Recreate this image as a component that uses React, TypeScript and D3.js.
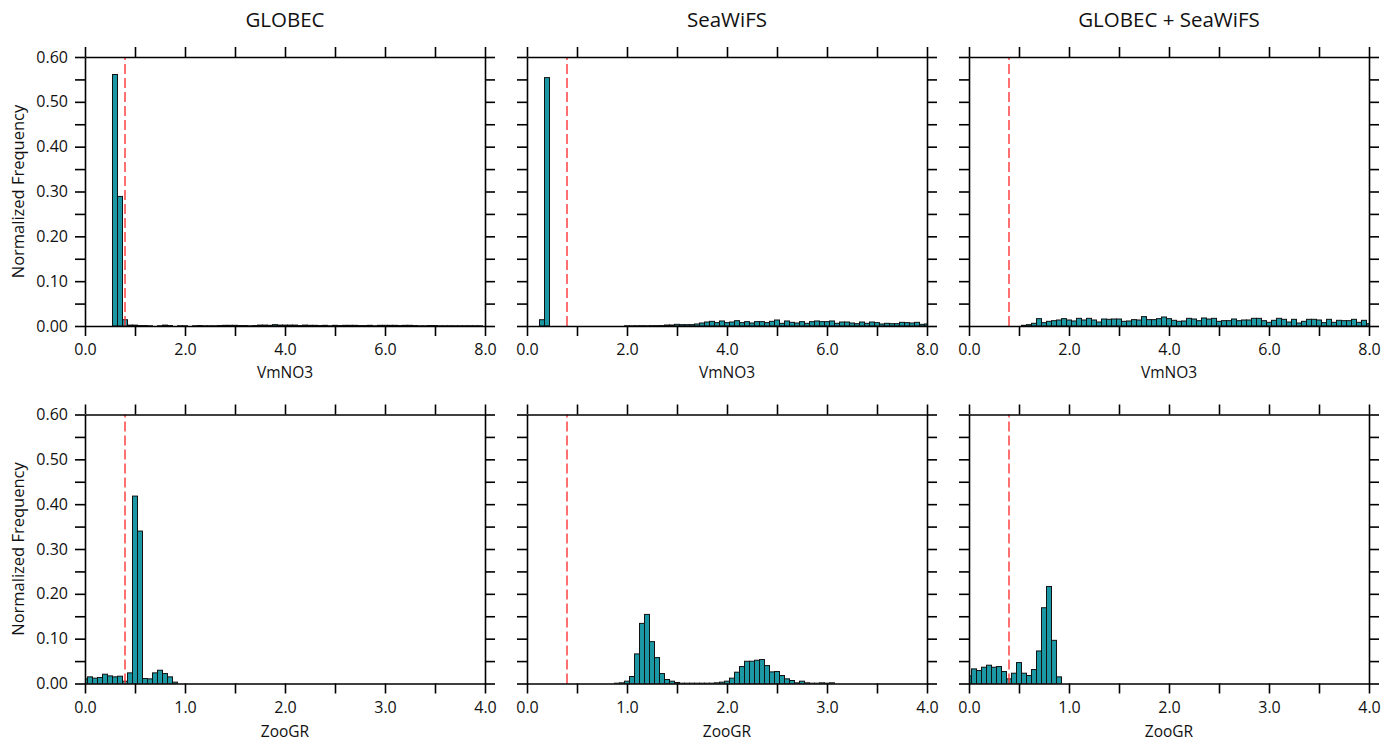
import React, { useEffect, useRef } from 'react';
import * as d3 from 'd3';

// panel titles and axis names
const titles = ['GLOBEC', 'SeaWiFS', 'GLOBEC + SeaWiFS'];
const xNames = ['VmNO3', 'ZooGR'];
const yName = 'Normalized Frequency';

// ticks
const yTicks = [0, 0.05, 0.1, 0.15, 0.2, 0.25, 0.3, 0.35, 0.4, 0.45, 0.5, 0.55, 0.6];
const yTickLabels = [0, 0.1, 0.2, 0.3, 0.4, 0.5, 0.6];
const vmTicks = [0, 1, 2, 3, 4, 5, 6, 7, 8];
const vmTickLabels = [0, 2, 4, 6, 8];
const zooTicks = [0, 0.5, 1, 1.5, 2, 2.5, 3, 3.5, 4];
const zooTickLabels = [0, 1, 2, 3, 4];

// bin widths and red reference lines
const vmBin = 0.1;
const zooBin = 0.05;
const vmThreshold = 0.8;
const zooThreshold = 0.4;

// VmNO3 histograms (first value is the bin centred at *Start)
const globecVmStart = 0.6;
const globecVmFreq = [
  0.561, 0.289, 0.014,
  0.002, 0.002, 0.001, 0.001, 0.0005, 0, 0.0005, 0.002, 0.001, 0, 0.0005,
  0.0005, 0, 0.0005, 0.001, 0.0005, 0.0005, 0.0005, 0.001, 0.0015, 0.0015,
  0.0015, 0.001, 0.001, 0.0005, 0.001, 0.002, 0.002, 0.0015, 0.003, 0.002,
  0.002, 0.002, 0.002, 0.001, 0.002, 0.0015, 0.0015, 0.001, 0.0015, 0.0005,
  0.0015, 0.001, 0.0015, 0.0015, 0.0015, 0.001, 0.001, 0.0015, 0.0005, 0.0015,
  0.0015, 0.0015, 0.0015, 0.001, 0.0015, 0.0015, 0.001, 0.0005, 0.0005, 0.001,
  0.001, 0.0005, 0.0005, 0.0005, 0.0005, 0.0005, 0.0005, 0.0005, 0.0005, 0.0005,
];

const seawifsVmStart = 0.3;
const seawifsVmFreq = [
  0.014, 0.554,
  0, 0, 0, 0, 0, 0, 0, 0, 0, 0, 0, 0, 0, 0, 0,
  0.0005, 0.0004, 0.0005, 0.0006, 0.0005, 0.0007, 0.0008, 0.0010,
  0.0022, 0.0022,
  0.0037, 0.0030, 0.0030, 0.0030, 0.0045, 0.0067, 0.0089, 0.0104, 0.0075, 0.0112,
  0.0075, 0.0089, 0.0119, 0.0075, 0.0097, 0.0067, 0.0097, 0.0097, 0.0075, 0.0104,
  0.0134, 0.0060, 0.0112, 0.0082, 0.0067, 0.0097, 0.0060, 0.0097, 0.0112, 0.0097,
  0.0097, 0.0112, 0.0060, 0.0089, 0.0089, 0.0067, 0.0052, 0.0089, 0.0060, 0.0089,
  0.0075, 0.0045, 0.0060, 0.0052, 0.0052, 0.0082, 0.0075, 0.0067, 0.0082, 0.0037,
  0.0045,
];

const combinedVmStart = 1.1;
const combinedVmFreq = [
  0.0015, 0.003, 0.006, 0.0164, 0.0075, 0.0104, 0.0119, 0.0134, 0.0164, 0.0134,
  0.0112, 0.0171, 0.0134, 0.0171, 0.0134, 0.0089, 0.0156, 0.0149, 0.0156, 0.0156,
  0.0104, 0.0112, 0.0142, 0.0134, 0.0209, 0.0142, 0.0142, 0.0164, 0.0201, 0.0164,
  0.0127, 0.0104, 0.0112, 0.0171, 0.0156, 0.0119, 0.0179, 0.0156, 0.0171, 0.0104,
  0.0119, 0.0119, 0.0156, 0.0119, 0.0134, 0.0134, 0.0171, 0.0171, 0.0119, 0.0082,
  0.0127, 0.0171, 0.0149, 0.0089, 0.0149, 0.0067, 0.0104, 0.0149, 0.0149, 0.0134,
  0.0075, 0.0149, 0.0082, 0.0127, 0.0119, 0.0119, 0.0149, 0.0082, 0.0127, 0.0052,
];

// ZooGR histograms
const globecZooStart = 0.0;
const globecZooFreq = [
  0.0104, 0.0148, 0.0119, 0.0133, 0.0207, 0.017, 0.0148, 0.0163, 0.0052, 0.0237,
  0.418, 0.340, 0.0111, 0.0104, 0.0237, 0.0296, 0.0222, 0.0148, 0.003,
];

const seawifsZooStart = 0.9;
const seawifsZooFreq = [
  0.0007, 0.0015, 0.0052, 0.0156, 0.066, 0.1341, 0.1541, 0.0934, 0.0578, 0.0222,
  0.0089, 0.0052, 0.0022, 0.0007, 0.0007, 0.0007, 0.0007, 0.0007, 0.0007, 0.0007,
  0.0015, 0.003, 0.0052, 0.0119, 0.0252, 0.0378, 0.0496, 0.0496, 0.0519, 0.0534,
  0.04, 0.0259, 0.0267, 0.0178, 0.0104, 0.0067, 0.0015, 0.0052, 0.0015, 0.0007,
  0.0007, 0.0015, 0.0007, 0.0015,
];

const combinedZooStart = 0.0;
const combinedZooFreq = [
  0.017, 0.0326, 0.0289, 0.0363, 0.0408, 0.0363, 0.0378, 0.0267, 0.0104, 0.023,
  0.0467, 0.023, 0.0178, 0.0311, 0.0726, 0.169, 0.2164, 0.0963, 0.0148,
];

const FONT = '"Open Sans", sans-serif';
const BAR_FILL = '#1c98a4';

const App = () => {
  const svgRef = useRef<SVGSVGElement>(null);

  useEffect(() => {
    if (!svgRef.current) return;
    const svg = d3.select(svgRef.current);
    svg.selectAll('*').remove();

    const colLeft = [85, 527, 969];
    const rowTop = [57, 414.5];
    const w = 400;
    const h = 269;

    const rows = [
      {
        domain: [0, 8], bin: vmBin, ticks: vmTicks, tickLabels: vmTickLabels,
        threshold: vmThreshold, name: xNames[0],
        series: [
          { start: globecVmStart, freq: globecVmFreq },
          { start: seawifsVmStart, freq: seawifsVmFreq },
          { start: combinedVmStart, freq: combinedVmFreq },
        ],
      },
      {
        domain: [0, 4], bin: zooBin, ticks: zooTicks, tickLabels: zooTickLabels,
        threshold: zooThreshold, name: xNames[1],
        series: [
          { start: globecZooStart, freq: globecZooFreq },
          { start: seawifsZooStart, freq: seawifsZooFreq },
          { start: combinedZooStart, freq: combinedZooFreq },
        ],
      },
    ];

    const fmtY = d3.format('.2f');
    const fmtX = d3.format('.1f');
    const near = (arr: number[], v: number) => arr.some(a => Math.abs(a - v) < 1e-6);

    rows.forEach((row, r) => {
      row.series.forEach((s, c) => {
        const x0 = colLeft[c];
        const y0 = rowTop[r];
        const x = d3.scaleLinear().domain(row.domain).range([x0, x0 + w]);
        const y = d3.scaleLinear().domain([0, 0.6]).range([y0 + h, y0]);

        const clipId = `clip-${r}-${c}`;
        svg.append('clipPath').attr('id', clipId)
          .append('rect')
          .attr('x', x0).attr('y', y0).attr('width', w).attr('height', h);

        const bars = s.freq
          .map((v, i) => ({ center: s.start + i * row.bin, value: v }))
          .filter(d => d.value > 0);

        svg.append('g')
          .attr('clip-path', `url(#${clipId})`)
          .selectAll('rect')
          .data(bars)
          .enter()
          .append('rect')
          .attr('x', d => x(d.center - row.bin / 2))
          .attr('width', x(row.bin) - x(0))
          .attr('y', d => y(d.value))
          .attr('height', d => y(0) - y(d.value))
          .attr('fill', BAR_FILL)
          .attr('stroke', '#111')
          .attr('stroke-width', 1);

        // red threshold line
        svg.append('line')
          .attr('x1', x(row.threshold)).attr('x2', x(row.threshold))
          .attr('y1', y(0)).attr('y2', y(0.6))
          .attr('stroke', '#ff3535')
          .attr('stroke-width', 1.4)
          .attr('stroke-dasharray', '10,4');

        // axes on all four sides
        const bottom = svg.append('g')
          .attr('transform', `translate(0,${y0 + h})`)
          .call(d3.axisBottom(x).tickValues(row.ticks).tickSize(10).tickSizeOuter(0).tickPadding(8)
            .tickFormat((d: any) => (near(row.tickLabels, d) ? fmtX(d) : '')));
        const top = svg.append('g')
          .attr('transform', `translate(0,${y0})`)
          .call(d3.axisTop(x).tickValues(row.ticks).tickSize(10).tickSizeOuter(0).tickFormat(() => ''));
        const left = svg.append('g')
          .attr('transform', `translate(${x0},0)`)
          .call(d3.axisLeft(y).tickValues(yTicks).tickSize(10).tickSizeOuter(0).tickPadding(7)
            .tickFormat((d: any) => (c === 0 && near(yTickLabels, d) ? fmtY(d) : '')));
        const right = svg.append('g')
          .attr('transform', `translate(${x0 + w},0)`)
          .call(d3.axisRight(y).tickValues(yTicks).tickSize(10).tickSizeOuter(0).tickFormat(() => ''));

        [bottom, top, left, right].forEach(g => {
          g.attr('font-family', FONT).attr('font-size', 16);
          g.selectAll('path').attr('stroke', '#000').attr('stroke-width', 1.6);
          g.selectAll('line').attr('stroke', '#000').attr('stroke-width', 1.6);
          g.selectAll('text').attr('fill', '#111');
        });

        // x-axis name
        svg.append('text')
          .attr('x', x0 + w / 2)
          .attr('y', y0 + h + (r === 0 ? 52 : 53))
          .attr('text-anchor', 'middle')
          .attr('font-family', FONT).attr('font-size', 15.5).attr('fill', '#111')
          .text(row.name);

        if (r === 0) {
          svg.append('text')
            .attr('x', x0 + w / 2)
            .attr('y', 27)
            .attr('text-anchor', 'middle')
            .attr('font-family', FONT).attr('font-size', 20.5).attr('fill', '#111')
            .text(titles[c]);
        }

        if (c === 0) {
          svg.append('text')
            .attr('transform', `translate(24,${y0 + h / 2}) rotate(-90)`)
            .attr('text-anchor', 'middle')
            .attr('font-family', FONT).attr('font-size', 16.5).attr('fill', '#111')
            .text(yName);
        }
      });
    });
  }, []);

  return (
    <svg
      ref={svgRef}
      width={1398}
      height={744}
      style={{ position: 'absolute', left: 0, top: 0, background: '#fff' }}
    />
  );
};

export default App;
